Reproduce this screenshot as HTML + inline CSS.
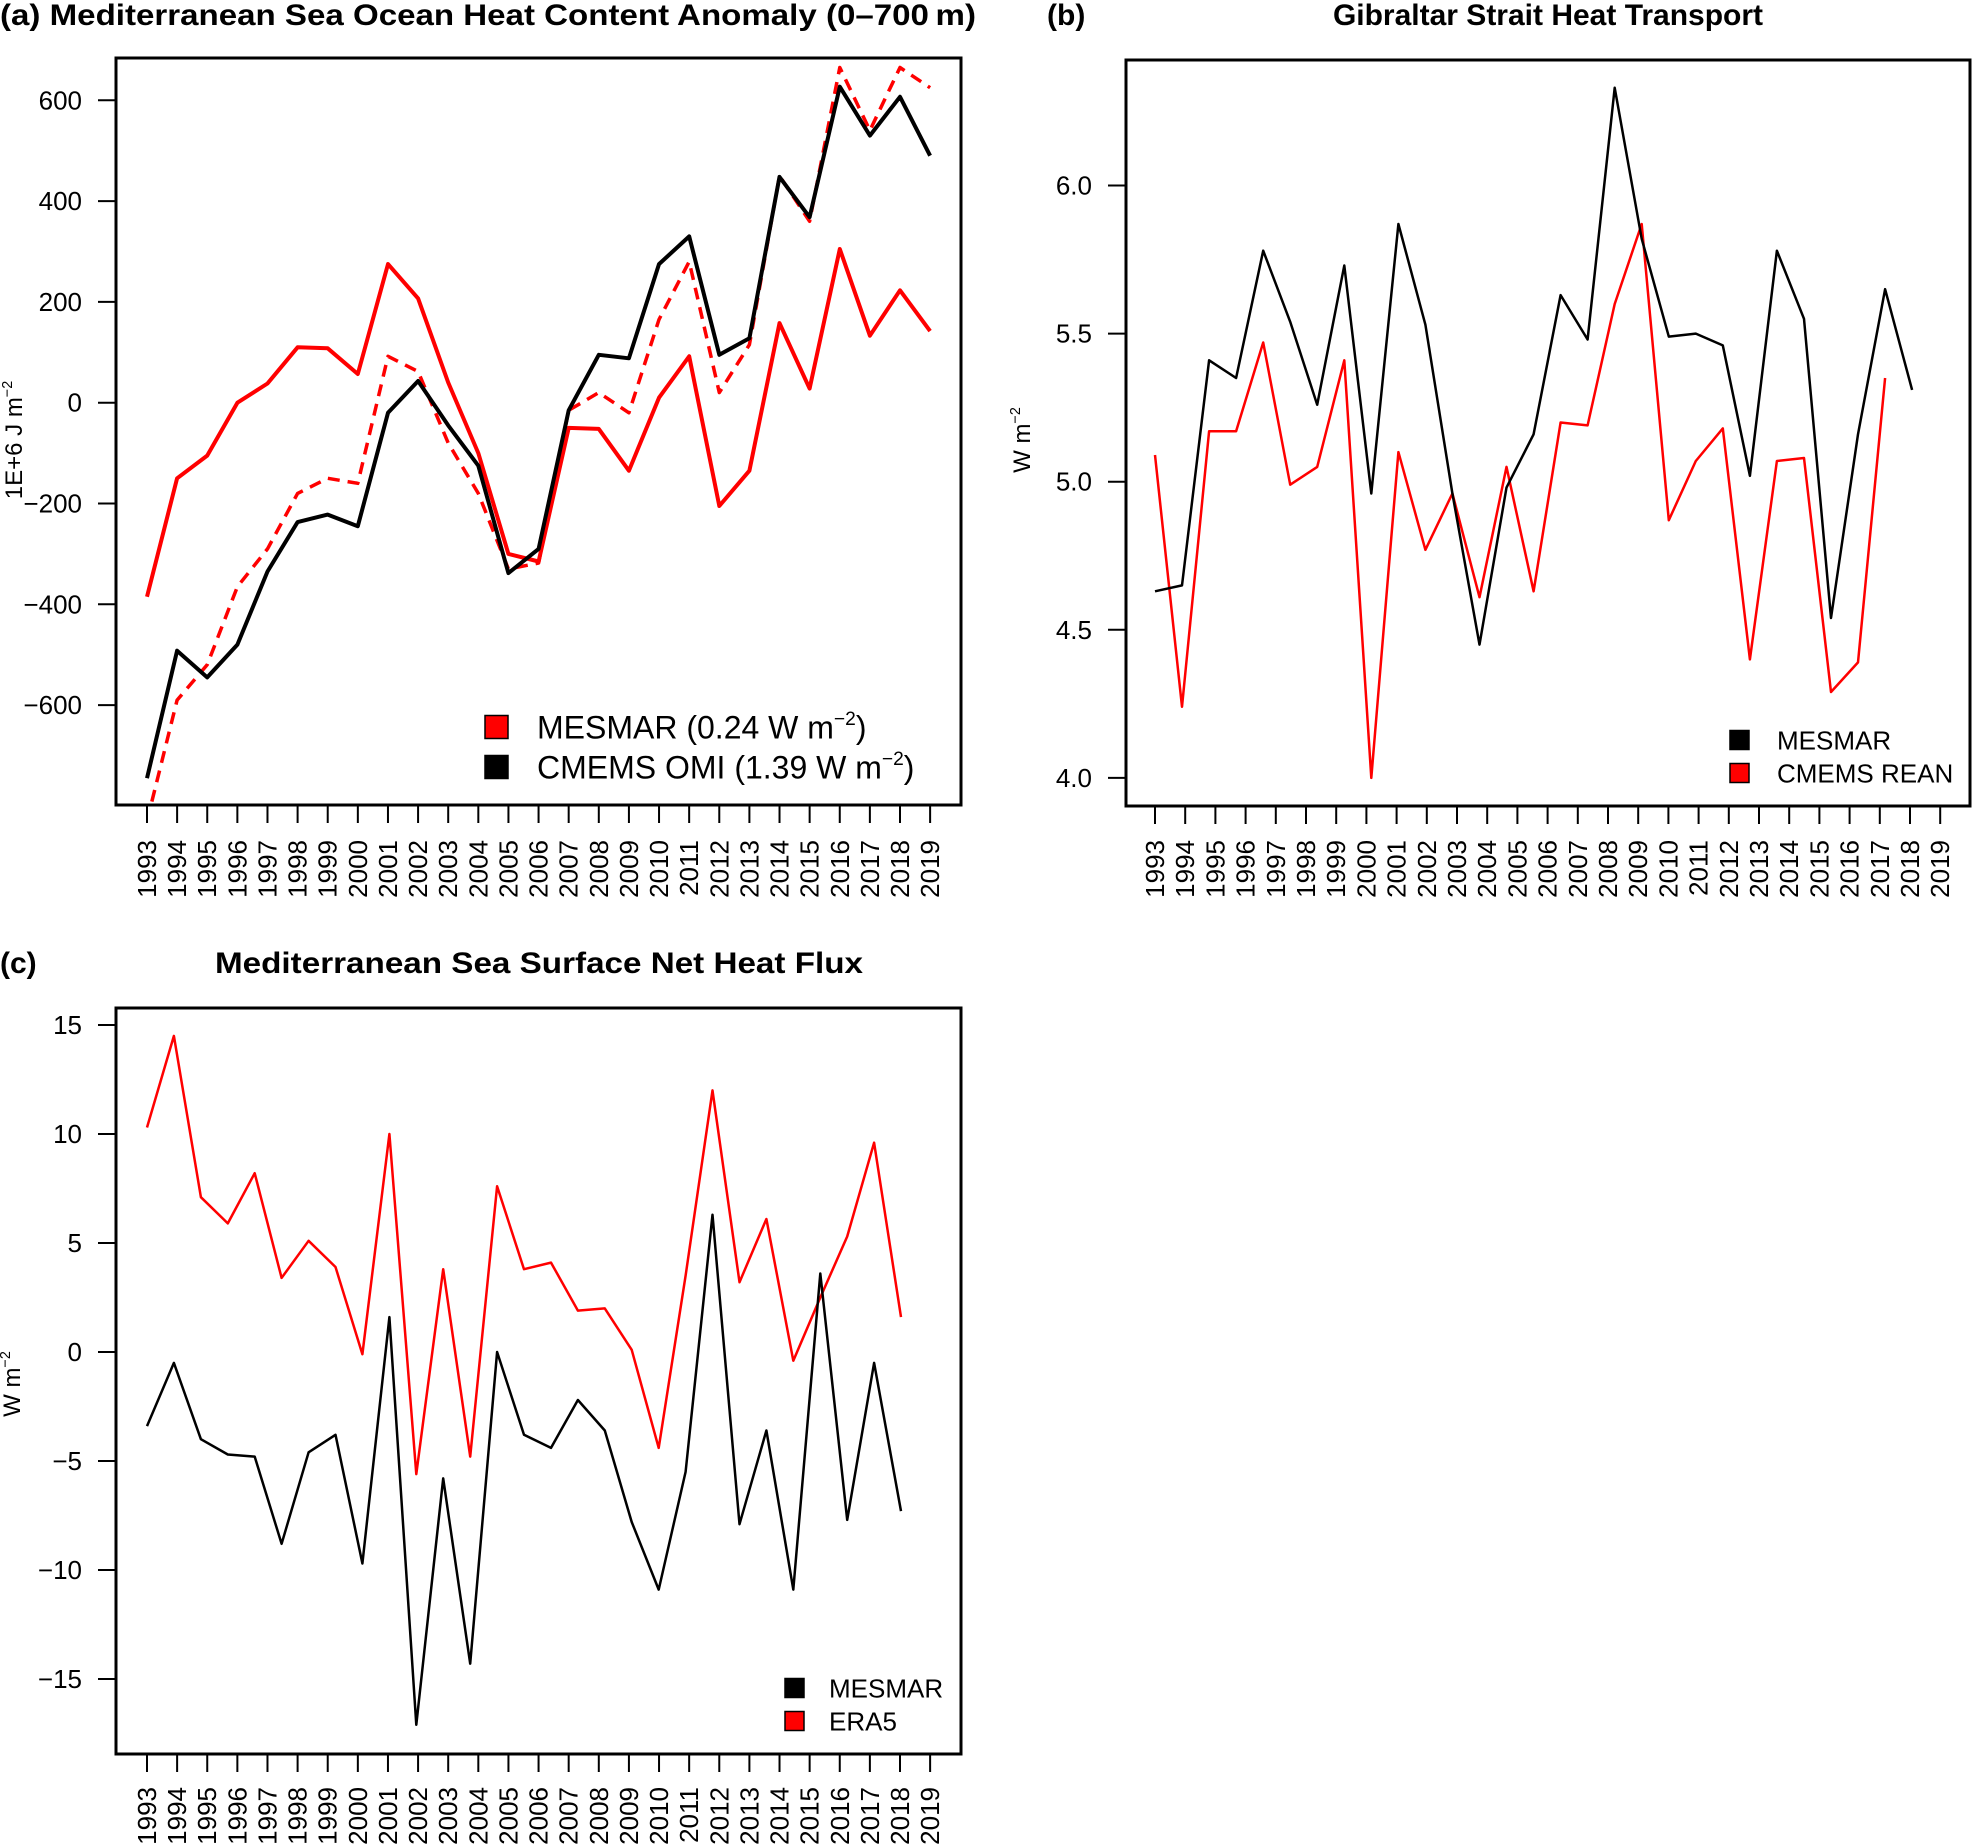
<!DOCTYPE html>
<html><head><meta charset="utf-8">
<style>
html,body{margin:0;padding:0;background:#fff;}
svg{display:block;font-family:"Liberation Sans",Arial,sans-serif;}
</style></head>
<body>
<svg id="fig" xmlns="http://www.w3.org/2000/svg" width="1973" height="1848" viewBox="0 0 1973 1848">
<defs>
<clipPath id="clipA"><rect x="116" y="58" width="845" height="747"/></clipPath>
<clipPath id="clipB"><rect x="1126" y="60" width="844" height="746"/></clipPath>
<clipPath id="clipC"><rect x="116" y="1008" width="845" height="746"/></clipPath>
</defs>
<g id="pa"></g>
<g id="pb"></g>
<g id="pc"></g>
</svg>
<script>
// ---------- data ----------
const years = [1993,1994,1995,1996,1997,1998,1999,2000,2001,2002,2003,2004,2005,2006,2007,2008,2009,2010,2011,2012,2013,2014,2015,2016,2017,2018,2019];
// Panel a
const aMesmar = [-385,-150,-105,0,38,110,108,57,275,207,40,-100,-300,-315,-50,-52,-135,10,92,-205,-135,158,28,305,133,223,142];
const aOmi = [-745,-492,-545,-480,-335,-237,-222,-245,-20,43,-45,-125,-338,-290,-15,95,88,275,330,95,128,448,368,627,530,607,490];
const aDashed = [-830,-590,-520,-365,-290,-180,-150,-160,92,62,-80,-180,-330,-318,-15,20,-20,165,280,20,115,450,360,665,540,665,625];
const aTicks = [-600,-400,-200,0,200,400,600];
const aTickLabels = ["\u2212600","\u2212400","\u2212200","0","200","400","600"];
// Panel b
const bMesmar = [4.63,4.65,5.41,5.35,5.78,5.54,5.26,5.73,4.96,5.87,5.53,4.96,4.45,4.98,5.16,5.63,5.48,6.33,5.82,5.49,5.50,5.46,5.02,5.78,5.55,4.54,5.16,5.65,5.31];
const bRean = [5.09,4.24,5.17,5.17,5.47,4.99,5.05,5.41,4.00,5.10,4.77,4.96,4.61,5.05,4.63,5.20,5.19,5.60,5.87,4.87,5.07,5.18,4.40,5.07,5.08,4.29,4.39,5.35];
const bTicks = [4.0,4.5,5.0,5.5,6.0];
const bTickLabels = ["4.0","4.5","5.0","5.5","6.0"];
// Panel c
const cEra5 = [10.3,14.5,7.1,5.9,8.2,3.4,5.1,3.9,-0.1,10.0,-5.6,3.8,-4.8,7.6,3.8,4.1,1.9,2.0,0.1,-4.4,3.5,12.0,3.2,6.1,-0.4,2.5,5.3,9.6,1.6];
const cMesmar = [-3.4,-0.5,-4.0,-4.7,-4.8,-8.8,-4.6,-3.8,-9.7,1.6,-17.1,-5.8,-14.3,0.0,-3.8,-4.4,-2.2,-3.6,-7.8,-10.9,-5.5,6.3,-7.9,-3.6,-10.9,3.6,-7.7,-0.5,-7.3];
const cTicks = [-15,-10,-5,0,5,10,15];
const cTickLabels = ["\u221215","\u221210","\u22125","0","5","10","15"];

// ---------- helpers ----------
const NS="http://www.w3.org/2000/svg";
function mk(tag, attrs, parent){const e=document.createElementNS(NS,tag);for(const k in attrs)e.setAttribute(k,attrs[k]);parent.appendChild(e);return e;}
function line(vals, xf, yf, color, w, clip, parent, name, dash){
  const pts = vals.map((v,i)=>xf(i).toFixed(1)+","+yf(v).toFixed(1)).join(" ");
  const p = mk("polyline",{points:pts,fill:"none",stroke:color,"stroke-width":w,"stroke-linejoin":"round","clip-path":"url(#"+clip+")"},parent);
  if(dash) p.setAttribute("stroke-dasharray",dash);
  
  
  return p;
}
function axes(g, box, tickX, tickTopLabel, yTicks, yLabels, yf, labelRight){
  const r = mk("rect",{x:box[0],y:box[1],width:box[2]-box[0],height:box[3]-box[1],fill:"none",stroke:"#000","stroke-width":3},g);
  
  
  const xg = mk("g",{},g);
  
  
  years.forEach((yr,i)=>{
    const x = tickX(i);
    mk("line",{x1:x,x2:x,y1:box[3],y2:box[3]+18,stroke:"#000","stroke-width":2},xg);
    const t = mk("text",{x:0,y:0,transform:"translate("+(x+9)+","+tickTopLabel+") rotate(-90)","text-anchor":"end","font-size":26},xg);
    t.textContent = yr;
    
    
  });
  const yg = mk("g",{},g);
  
  
  yTicks.forEach((v,i)=>{
    const y = yf(v);
    mk("line",{x1:box[0]-18,x2:box[0],y1:y,y2:y,stroke:"#000","stroke-width":2},yg);
    const t = mk("text",{x:labelRight,y:y+9,"text-anchor":"end","font-size":26},yg);
    t.textContent = yLabels[i];
    
    
  });
}
function legendEntry(g, sx, sy, sz, color, tx, fs, label, sup, tail){
  const e = mk("g",{},g);
  
  
  mk("rect",{x:sx,y:sy-sz/2,width:sz,height:sz,fill:color,stroke:"#000","stroke-width":1.5},e);
  const t = mk("text",{x:tx,y:sy+fs*0.36,"font-size":fs},e);
  t.appendChild(document.createTextNode(label));
  if(sup){const s=mk("tspan",{"font-size":fs*0.6,dy:-fs*0.42},t);s.textContent=sup;
    const r=mk("tspan",{dy:fs*0.42},t);r.textContent=tail;}
}
function txt(g,x,y,s,fs,attrs,name){const t=mk("text",Object.assign({x:x,y:y,"font-size":fs},attrs||{}),g);t.textContent=s;return t;}
function ytitle(g,x,y,main,fs,name){
  const t=mk("text",{x:0,y:0,transform:"translate("+x+","+y+") rotate(-90)","text-anchor":"middle","font-size":fs},g);
  t.appendChild(document.createTextNode(main));
  const s=mk("tspan",{"font-size":fs*0.6,dy:-fs*0.42},t);s.textContent="\u22122";
  
}

// ---------- panel a ----------
(function(){
  const g=document.getElementById("pa");
  const box=[116,58,961,805];
  const xa=i=>147+i*30.12;
  const ya=v=>402.7-v*0.504;
  axes(g,box,xa,840,aTicks,aTickLabels,ya,82);
  line(aDashed,xa,ya,"#ff0000",3.5,"clipA",g,"cmems-omi-red-dashed-line","12,8");
  line(aMesmar,xa,ya,"#ff0000",4,"clipA",g,"mesmar-ohc-line");
  line(aOmi,xa,ya,"#000000",4,"clipA",g,"cmems-omi-line");
  txt(g,0,25,"(a) Mediterranean Sea Ocean Heat Content Anomaly (0\u2013700\u2009m)",30,{"font-weight":"bold",textLength:976,lengthAdjust:"spacingAndGlyphs"},"panel-a-title");
  ytitle(g,22,440,"1E+6 J m",24,"panel-a-y-title");
  const lg=mk("g",{},g);
  legendEntry(lg,485,727,23,"#ff0000",537,32,"MESMAR (0.24 W m","\u22122",")");
  legendEntry(lg,485,767,23,"#000000",537,32,"CMEMS OMI (1.39 W m","\u22122",")");
})();

// ---------- panel b ----------
(function(){
  const g=document.getElementById("pb");
  const box=[1126,60,1970,806];
  const xt=i=>1155+i*30.2;
  const xp=i=>1155+i*27.04;
  const yb=v=>185.5+(6.0-v)*296.2;
  axes(g,box,xt,840,bTicks,bTickLabels,yb,1092);
  line(bRean,xp,yb,"#ff0000",2.5,"clipB",g,"cmems-rean-line");
  line(bMesmar,xp,yb,"#000000",2.5,"clipB",g,"mesmar-transport-line");
  txt(g,1047,25,"(b)",30,{"font-weight":"bold"},"panel-b-label");
  txt(g,1548,25,"Gibraltar Strait Heat Transport",30,{"font-weight":"bold","text-anchor":"middle"},"panel-b-title");
  ytitle(g,1030,440,"W m",24,"panel-b-y-title");
  const lg=mk("g",{},g);
  legendEntry(lg,1730,740,19,"#000000",1777,26,"MESMAR");
  legendEntry(lg,1730,773,19,"#ff0000",1777,26,"CMEMS REAN");
})();

// ---------- panel c ----------
(function(){
  const g=document.getElementById("pc");
  const box=[116,1008,961,1754];
  const xt=i=>147+i*30.12;
  const xp=i=>147+i*26.93;
  const yc=v=>1352-v*21.8;
  axes(g,box,xt,1787,cTicks,cTickLabels,yc,82);
  line(cEra5,xp,yc,"#ff0000",2.5,"clipC",g,"era5-flux-line");
  line(cMesmar,xp,yc,"#000000",2.5,"clipC",g,"mesmar-flux-line");
  txt(g,0,973,"(c)",30,{"font-weight":"bold"},"panel-c-label");
  txt(g,539,973,"Mediterranean Sea Surface Net Heat Flux",30,{"font-weight":"bold","text-anchor":"middle",textLength:648,lengthAdjust:"spacingAndGlyphs"},"panel-c-title");
  ytitle(g,20,1384,"W m",24,"panel-c-y-title");
  const lg=mk("g",{},g);
  legendEntry(lg,785,1688,19,"#000000",829,26,"MESMAR");
  legendEntry(lg,785,1721,19,"#ff0000",829,26,"ERA5");
})();
</script>
</body></html>
